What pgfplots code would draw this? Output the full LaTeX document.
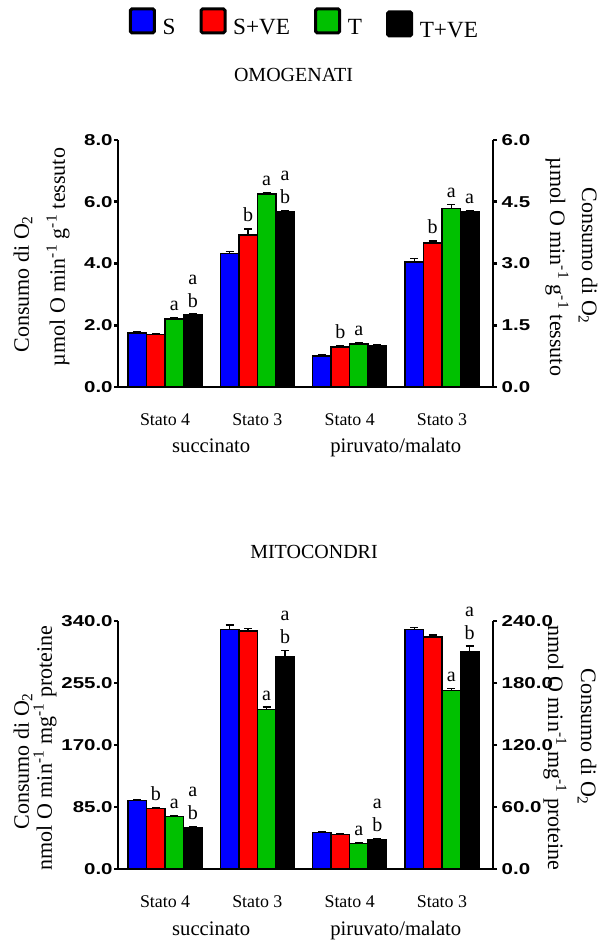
\documentclass[border=0pt]{standalone}
\usepackage{fontspec}
\setmainfont{Liberation Serif}
\newfontfamily\tickfont[FakeStretch=1.3]{Liberation Sans}
\usepackage{pgfplots}
\pgfplotsset{compat=1.18}

\definecolor{cS}{RGB}{0,0,255}
\definecolor{cSVE}{RGB}{255,0,0}
\definecolor{cT}{RGB}{0,192,0}
\definecolor{cTVE}{RGB}{0,0,0}

\pgfplotsset{
  panel/.style={
    scale only axis, width=281.25pt,
    xmin=-0.51, xmax=3.553, ymin=0,
    clip=false,
    axis line style={line width=2.2pt},
    every tick/.style={line width=2pt, black},
    major tick length=3pt,
    tick align=outside,
    yticklabel style={font=\tickfont\bfseries\fontsize{11.8}{12}\selectfont},
    xticklabel style={font=\fontsize{13.4}{14}\selectfont, anchor=base, yshift=-26pt},
    xtick style={draw=none},
    /pgf/number format/fixed, /pgf/number format/fixed zerofill,
    /pgf/number format/precision=1, /pgf/number format/assume math mode=true,
  },
  % bars are placed at group + offset (-0.3,-0.1,0.1,0.3), so no bar shift
  bar/.style 2 args={ybar, bar width=0.2, bar shift=0pt, fill=#1, draw=black, line width=1.1pt,
    error bars/y dir=plus, error bars/y explicit,
    error bars/error bar style={line width=1pt, black},
    error bars/error mark options={rotate=90, mark size=3pt, line width=1pt, black},
    legend image code/.code={\draw[fill=#1, draw=black, line width=2.3pt, rounded corners=1.2pt]
      (0pt,{1.5pt+#2}) rectangle (18pt,{19.5pt+#2});}},
}
\newcommand{\one}[3]{\node[anchor=base, font=\fontsize{15}{15}\selectfont, yshift=5.25pt] at (axis cs:#1,#2) {#3};}
\newcommand{\two}[2]{\node[anchor=base, font=\fontsize{15}{15}\selectfont, yshift=5.25pt] at (axis cs:#1,#2) {b};
  \node[anchor=base, font=\fontsize{15}{15}\selectfont, yshift=22.5pt] at (axis cs:#1,#2) {a};}

\begin{document}
\begin{tikzpicture}
\path[use as bounding box] (0,0) rectangle (451.5pt,705pt);

% OMOGENATI - succinato (left axis)
\begin{axis}[panel, at={(88.5pt,414.75pt)}, height=185.25pt,
  ymax=8, ytick={0,2,4,6,8}, axis lines*=left, yticklabel style={xshift=2.5pt},
  xtick={0,1,2,3}, xticklabels={Stato 4,Stato 3,Stato 4,Stato 3},
  legend columns=4, legend cell align=left,
  legend style={at={(0.498,1.472)}, anchor=center, draw=none, fill=none,
    font=\fontsize{17.4}{18}\selectfont, cells={anchor=base west},
    /tikz/every odd column/.append style={column sep=3pt},
    /tikz/every even column/.append style={column sep=16pt}}]
\addplot[bar={cS}{0pt}] coordinates {(-0.3,1.75) +- (0,0.04) (0.7,4.33) +- (0,0.06)};
\addplot[bar={cSVE}{0pt}] coordinates {(-0.1,1.70) +- (0,0.04) (0.9,4.92) +- (0,0.20)};
\addplot[bar={cT}{0pt}] coordinates {(0.1,2.20) +- (0,0.04) (1.1,6.25) +- (0,0.05)};
\addplot[bar={cTVE}{-2.25pt}] coordinates {(0.3,2.33) +- (0,0.03) (1.3,5.68) +- (0,0.04)};
\legend{S, S+VE, T, \raisebox{-2.25pt}{T+VE}}
\one{0.1}{2.24}{a}
\two{0.3}{2.36}
\one{0.9}{5.12}{b}
\one{1.1}{6.30}{a}
\two{1.3}{5.72}
\node[anchor=base, font=\fontsize{15.5}{16}\selectfont, yshift=-49.5pt] at (axis cs:0.5,0) {succinato};
\node[anchor=base, font=\fontsize{15.5}{16}\selectfont, yshift=-49.5pt] at (axis cs:2.5,0) {piruvato/malato};
\end{axis}

% OMOGENATI - piruvato/malato (right axis)
\begin{axis}[panel, at={(88.5pt,414.75pt)}, height=185.25pt,
  ymax=6, ytick={0,1.5,3,4.5,6}, axis y line*=right, axis x line=none]
\addplot[bar={cS}{0pt}] coordinates {(1.7,0.75) +- (0,0.03) (2.7,3.04) +- (0,0.08)};
\addplot[bar={cSVE}{0pt}] coordinates {(1.9,0.97) +- (0,0.03) (2.9,3.50) +- (0,0.05)};
\addplot[bar={cT}{0pt}] coordinates {(2.1,1.05) +- (0,0.03) (3.1,4.34) +- (0,0.10)};
\addplot[bar={cTVE}{0pt}] coordinates {(2.3,1.00) +- (0,0.03) (3.3,4.26) +- (0,0.02)};
\one{1.9}{1.00}{b}
\one{2.1}{1.08}{a}
\one{2.9}{3.55}{b}
\one{3.1}{4.44}{a}
\one{3.3}{4.28}{a}
\end{axis}

% MITOCONDRI - succinato (left axis)
\begin{axis}[panel, at={(88.5pt,53.25pt)}, height=186pt,
  ymax=340, ytick={0,85,170,255,340}, axis lines*=left, yticklabel style={xshift=2.5pt},
  xtick={0,1,2,3}, xticklabels={Stato 4,Stato 3,Stato 4,Stato 3}]
\addplot[bar={cS}{0pt}] coordinates {(-0.3,94.2) +- (0,1.5) (0.7,328.6) +- (0,6)};
\addplot[bar={cSVE}{0pt}] coordinates {(-0.1,82.8) +- (0,1.5) (0.9,326.3) +- (0,3)};
\addplot[bar={cT}{0pt}] coordinates {(0.1,72.3) +- (0,1.5) (1.1,218.5) +- (0,3.5)};
\addplot[bar={cTVE}{0pt}] coordinates {(0.3,56.7) +- (0,1.5) (1.3,291.6) +- (0,8)};
\one{-0.1}{84.3}{b}
\one{0.1}{73.8}{a}
\two{0.3}{58.2}
\one{1.1}{222}{a}
\two{1.3}{299.6}
\node[anchor=base, font=\fontsize{15.5}{16}\selectfont, yshift=-49.5pt] at (axis cs:0.5,0) {succinato};
\node[anchor=base, font=\fontsize{15.5}{16}\selectfont, yshift=-49.5pt] at (axis cs:2.5,0) {piruvato/malato};
\end{axis}

% MITOCONDRI - piruvato/malato (right axis)
\begin{axis}[panel, at={(88.5pt,53.25pt)}, height=186pt,
  ymax=240, ytick={0,60,120,180,240}, axis y line*=right, axis x line=none]
\addplot[bar={cS}{0pt}] coordinates {(1.7,35.2) +- (0,1) (2.7,231.7) +- (0,2)};
\addplot[bar={cSVE}{0pt}] coordinates {(1.9,33.3) +- (0,1) (2.9,224.5) +- (0,2)};
\addplot[bar={cT}{0pt}] coordinates {(2.1,24.5) +- (0,1) (3.1,172.9) +- (0,2)};
\addplot[bar={cTVE}{0pt}] coordinates {(2.3,28.4) +- (0,1) (3.3,210.7) +- (0,5)};
\one{2.1}{25.5}{a}
\two{2.3}{29.4}
\one{3.1}{174.9}{a}
\two{3.3}{215.7}
\end{axis}

% titles
\node[anchor=base, font=\fontsize{15}{16}\selectfont] at (220.1pt,643.5pt) {OMOGENATI};
\node[anchor=base, font=\fontsize{15}{16}\selectfont] at (235.5pt,285.75pt) {MITOCONDRI};

% y axis titles
\begin{scope}[every node/.style={font=\fontsize{16.5}{17}\selectfont, anchor=center}]
\node[rotate=90] at (17.25pt,492pt) {Consumo di O\textsubscript{2}};
\node[rotate=90] at (43.5pt,512.25pt) {µmol O min\textsuperscript{-1} g\textsuperscript{-1} tessuto};
\node[rotate=-90] at (441pt,513pt) {Consumo di O\textsubscript{2}};
\node[rotate=-90] at (417.75pt,504.75pt) {µmol O min\textsuperscript{-1} g\textsuperscript{-1} tessuto};
\node[rotate=90] at (17.25pt,134.25pt) {Consumo di O\textsubscript{2}};
\node[rotate=90] at (33.75pt,144pt) {nmol O min\textsuperscript{-1} mg\textsuperscript{-1} proteine};
\node[rotate=-90] at (440.25pt,152.25pt) {Consumo di O\textsubscript{2}};
\node[rotate=-90] at (416.25pt,144pt) {nmol O min\textsuperscript{-1} mg\textsuperscript{-1} proteine};
\end{scope}
\end{tikzpicture}
\end{document}
